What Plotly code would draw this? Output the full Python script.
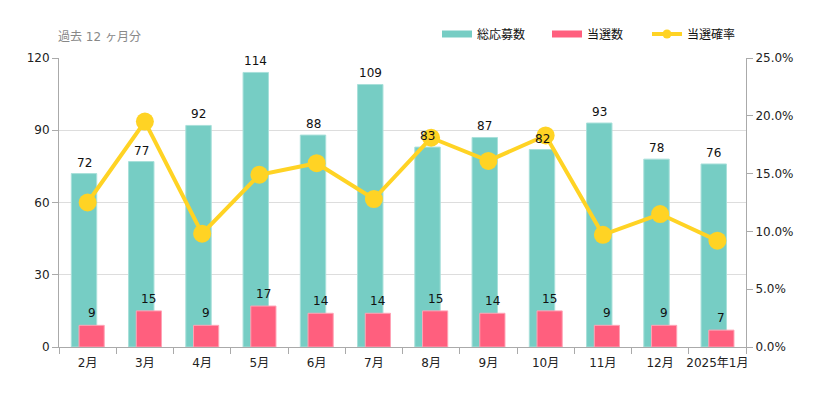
import plotly.graph_objects as go

months = ["2月", "3月", "4月", "5月", "6月", "7月", "8月", "9月", "10月", "11月", "12月", "2025年1月"]
applications = [72, 77, 92, 114, 88, 109, 83, 87, 82, 93, 78, 76]
wins = [9, 15, 9, 17, 14, 14, 15, 14, 15, 9, 9, 7]
win_rate_pct = [12.5, 19.5, 9.8, 14.9, 15.9, 12.8, 18.1, 16.1, 18.3, 9.7, 11.5, 9.2]

TEAL = "#76CDC4"
PINK = "#FF5F7E"
YELLOW = "#FFD324"
FONT = "DejaVu Sans, Noto Sans CJK JP, sans-serif"

APP_OFF, APP_W = -0.285, 0.444
WIN_OFF, WIN_W = -0.15, 0.44

fig = go.Figure()
fig.add_trace(go.Bar(
    x=months, y=applications, name="総応募数",
    marker=dict(color=TEAL, line=dict(color="#A8E0DA", width=1)),
    offset=APP_OFF, width=APP_W, showlegend=False,
))
fig.add_trace(go.Bar(
    x=months, y=wins, name="当選数",
    marker=dict(color=PINK, line=dict(color="#FFA3B5", width=1)),
    offset=WIN_OFF, width=WIN_W, showlegend=False,
))
fig.add_trace(go.Scatter(
    x=months, y=[v / 100 for v in win_rate_pct], name="当選確率", yaxis="y2",
    mode="lines+markers",
    line=dict(color=YELLOW, width=4),
    marker=dict(color=YELLOW, size=18),
    cliponaxis=False, showlegend=False,
))

# value labels drawn on top of everything
for i, (a, w) in enumerate(zip(applications, wins)):
    fig.add_annotation(x=i + APP_OFF + APP_W / 2, y=a, xref="x", yref="y",
                       text=str(a), showarrow=False, yanchor="middle", yshift=11,
                       font=dict(size=12, color="#111", family=FONT))
    fig.add_annotation(x=i + WIN_OFF + WIN_W / 2, y=w, xref="x", yref="y",
                       text=str(w), showarrow=False, yanchor="middle", yshift=12,
                       font=dict(size=12, color="#111", family=FONT))

# page body has an 8px margin: figure is 824x389 placed at (8, 8)
fig.update_layout(
    width=824, height=389,
    margin=dict(l=51, r=86, t=50, b=50),
    paper_bgcolor="white", plot_bgcolor="white",
    barmode="overlay",
    font=dict(family=FONT, size=12, color="#222"),
    xaxis=dict(
        type="category", range=[-0.5, len(months) - 0.5],
        showline=True, linecolor="#aaa", linewidth=1,
        ticks="outside", tickson="boundaries", tickcolor="#aaa", ticklen=6,
        ticklabelstandoff=5,
        showgrid=False, tickangle=0, automargin=False,
        tickfont=dict(size=12, color="#222"),
    ),
    yaxis=dict(
        range=[0, 120], dtick=30, showline=True, linecolor="#aaa",
        ticks="outside", tickcolor="#aaa", ticklen=6, automargin=False,
        gridcolor="#ddd", zeroline=False, tickfont=dict(size=12, color="#222"),
    ),
    yaxis2=dict(
        overlaying="y", side="right", range=[0, 0.25], dtick=0.05,
        tickformat=".1%", showline=True, linecolor="#aaa", automargin=False,
        ticks="outside", tickcolor="#aaa", ticklen=6, showgrid=False,
        zeroline=False, tickfont=dict(size=12, color="#222"),
    ),
    showlegend=False,
)

# title
fig.add_annotation(xref="paper", yref="paper", x=0, y=1, xshift=-3, yshift=21,
                   xanchor="left", yanchor="middle", showarrow=False,
                   text="過去 12 ヶ月分", font=dict(size=12, color="#888", family=FONT))

# custom legend (screen pixel positions converted to paper coordinates)
pw, ph = 746 - 59, 347 - 58
def px(x):
    return (x - 59) / pw
def py(y):
    return (347 - y) / ph

legend_items = [("総応募数", TEAL, 442, "bar"), ("当選数", PINK, 552, "bar"), ("当選確率", YELLOW, 652, "line")]
for label, color, x0, kind in legend_items:
    if kind == "bar":
        fig.add_shape(type="rect", xref="paper", yref="paper",
                      x0=px(x0), x1=px(x0 + 30), y0=py(37.5), y1=py(30.5),
                      fillcolor=color, line=dict(width=0))
    else:
        fig.add_shape(type="line", xref="paper", yref="paper",
                      x0=px(x0), x1=px(x0 + 30), y0=py(34), y1=py(34),
                      line=dict(color=color, width=4))
        fig.add_shape(type="circle", xref="paper", yref="paper",
                      x0=px(x0 + 10.5), x1=px(x0 + 19.5), y0=py(38.5), y1=py(29.5),
                      fillcolor=color, line=dict(width=0))
    fig.add_annotation(xref="paper", yref="paper", x=px(x0 + 33), y=py(34),
                       xanchor="left", yanchor="middle", showarrow=False,
                       text=label, font=dict(size=12, color="#111", family=FONT))

fig.write_html("out.html")
